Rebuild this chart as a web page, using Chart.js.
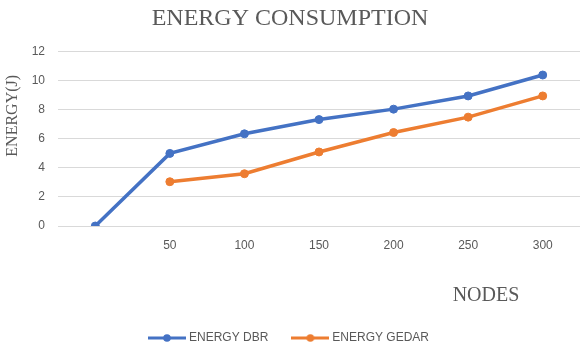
<!DOCTYPE html>
<html>
<head>
<meta charset="utf-8">
<script src="https://cdn.jsdelivr.net/npm/chart.js@4"></script>
<style>
  html, body { margin: 0; padding: 0; background: #fff; }
  #wrap { width: 587px; height: 351px; }
</style>
</head>
<body>
<div id="wrap"><canvas id="energy"></canvas></div>
<script>
const nodes = ['', '50', '100', '150', '200', '250', '300'];
const energyDBR = [0, 5.0, 6.35, 7.33, 8.05, 8.96, 10.4];
const energyGEDAR = [null, 3.05, 3.6, 5.1, 6.44, 7.5, 8.96];
const yTicks = [0, 2, 4, 6, 8, 10, 12];

const BLUE = '#4472C4';
const ORANGE = '#ED7D31';
const TEXT = '#595959';

// little line-with-dot picture for the legend
function legendMark(color) {
  const c = document.createElement('canvas');
  c.width = 38; c.height = 10;
  const g = c.getContext('2d');
  g.strokeStyle = color;
  g.lineWidth = 3;
  g.beginPath(); g.moveTo(0, 5); g.lineTo(38, 5); g.stroke();
  g.fillStyle = color;
  g.beginPath(); g.arc(19, 5, 3.8, 0, Math.PI * 2); g.fill();
  return c;
}
const marks = [legendMark(BLUE), legendMark(ORANGE)];

// axis titles sit where Excel left them, not centred on the axis
const axisTitles = {
  id: 'axisTitles',
  afterDraw(chart) {
    const ctx = chart.ctx;
    const area = chart.chartArea;
    ctx.save();
    ctx.fillStyle = TEXT;
    ctx.textAlign = 'center';
    ctx.textBaseline = 'middle';
    ctx.font = '20px "Liberation Serif"';
    ctx.fillText('NODES', area.right - 94, area.bottom + 70);
    ctx.translate(13, area.top + 64);
    ctx.rotate(-Math.PI / 2);
    ctx.font = '16px "Liberation Serif"';
    ctx.fillText('ENERGY(J)', 0, 0);
    ctx.restore();
  }
};

const ctx = document.getElementById('energy');
const chart = new Chart(ctx, {
  type: 'line',
  data: {
    labels: nodes,
    datasets: [{
      label: 'ENERGY DBR',
      data: energyDBR,
      borderColor: BLUE,
      backgroundColor: BLUE,
      borderWidth: 3.5,
      pointRadius: 4,
      pointBorderWidth: 1,
      lineTension: 0
    }, {
      label: 'ENERGY GEDAR',
      data: energyGEDAR,
      borderColor: ORANGE,
      backgroundColor: ORANGE,
      borderWidth: 3.5,
      pointRadius: 4,
      pointBorderWidth: 1,
      lineTension: 0
    }]
  },
  options: {
    responsive: true,
    maintainAspectRatio: false,
    animation: false,
    layout: { padding: { left: 0, right: 7, top: 0, bottom: -3 } },
    plugins: {
      title: {
        display: true,
        text: 'ENERGY CONSUMPTION',
        color: TEXT,
        font: { family: '"Liberation Serif"', size: 24, weight: 'normal' },
        padding: { top: 4, bottom: 19 }
      },
      legend: {
        position: 'bottom',
        labels: {
          color: TEXT,
          font: { family: '"Liberation Sans"', size: 12 },
          usePointStyle: true,
          pointStyleWidth: 32,
          boxHeight: 10,
          padding: 26,
          generateLabels(chart) {
            const items = Chart.defaults.plugins.legend.labels.generateLabels(chart);
            items.forEach((it, i) => { it.pointStyle = marks[i]; });
            return items;
          }
        }
      },
      tooltip: { enabled: false }
    },
    scales: {
      x: {
        offset: true,
        grid: { display: false, drawTicks: false },
        border: { display: false },
        ticks: { color: TEXT, font: { family: '"Liberation Sans"', size: 12 }, padding: 12, maxRotation: 0 },
        afterFit(scale) { scale.height = 80; }
      },
      y: {
        min: 0,
        max: 12,
        afterBuildTicks(scale) { scale.ticks = yTicks.map(v => ({ value: v })); },
        grid: { color: '#d9d9d9', drawTicks: false },
        border: { display: false },
        ticks: { color: TEXT, font: { family: '"Liberation Sans"', size: 12 }, padding: 13 },
        afterFit(scale) { scale.width = 58; }
      }
    }
  },
  plugins: [axisTitles]
});
</script>
</body>
</html>
